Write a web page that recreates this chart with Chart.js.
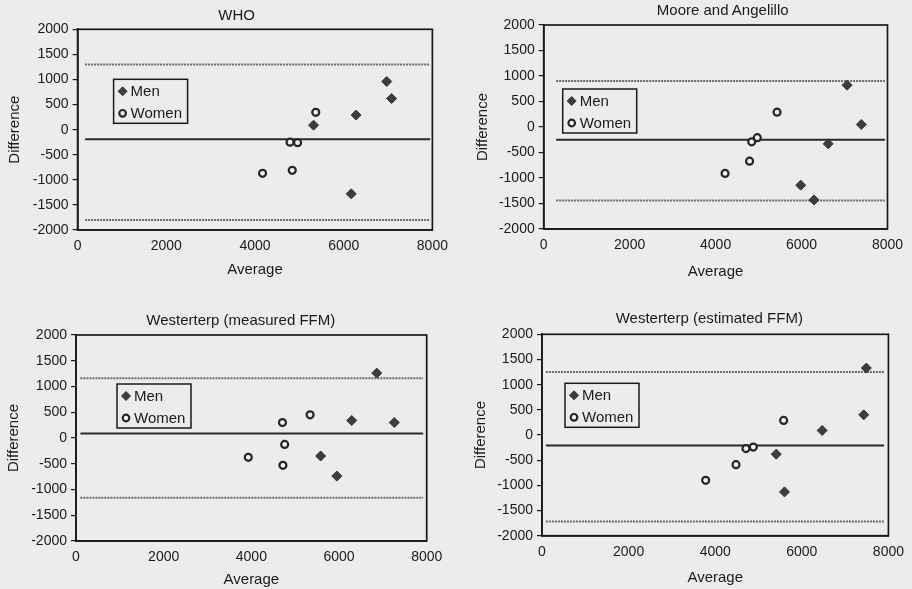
<!DOCTYPE html>
<html lang="en">
<head>
<meta charset="UTF-8">
<title>Difference vs Average</title>
<script src="https://cdn.jsdelivr.net/npm/chart.js"></script>
<style>
  body { margin: 0; background: #edecea; }
  #grid { position: relative; width: 912px; height: 589px; overflow: hidden; }
  #grid canvas { position: absolute; }
  .ptitle {
    position: absolute;
    transform: translate(-50%, -50%);
    font: 15px/18px "Liberation Sans", Arial, sans-serif;
    color: #1a1a1a;
    white-space: nowrap;
  }
</style>
</head>
<body>
<div id="grid">
  <canvas id="c0" width="456" height="295" style="left:0;top:0"></canvas>
  <canvas id="c1" width="456" height="295" style="left:456px;top:0"></canvas>
  <canvas id="c2" width="456" height="294" style="left:0;top:295px"></canvas>
  <canvas id="c3" width="456" height="294" style="left:456px;top:295px"></canvas>
</div>
<script>
// one entry per panel
const panelTitles = ['WHO', 'Moore and Angelillo', 'Westerterp (measured FFM)', 'Westerterp (estimated FFM)'];

const menAverage = [
  [5320, 6280, 6970, 7080, 6170],
  [7060, 7390, 6620, 5980, 6290],
  [6860, 6290, 7260, 5580, 5950],
  [7490, 7430, 6470, 5410, 5600]
];
const menDifference = [
  [90, 290, 960, 620, -1280],
  [820, 50, -330, -1140, -1430],
  [1260, 340, 300, -350, -740],
  [1330, 400, 90, -380, -1130]
];
const womenAverage = [
  [4170, 4790, 4960, 4840, 5370],
  [4220, 4790, 4840, 4970, 5430],
  [3930, 4710, 5340, 4760, 4720],
  [3780, 4480, 4710, 4880, 5580]
];
const womenDifference = [
  [-870, -250, -260, -810, 345],
  [-910, -670, -290, -210, 290],
  [-375, 300, 450, -125, -530],
  [-900, -590, -270, -240, 290]
];

// mean difference and limits of agreement
const meanDiff = [-190, -250, 85, -210];
const upperLimit = [1300, 900, 1160, 1250];
const lowerLimit = [-1800, -1440, -1160, -1720];
const lineStart = [170, 290, 100, 90];
const lineEnd = [7950, 7940, 7920, 7900];

const xTicks = [0, 2000, 4000, 6000, 8000];
const yTicks = [-2000, -1500, -1000, -500, 0, 500, 1000, 1500, 2000];

// placement of each panel on the page
const panels = [
  { x: 0,   y: 0,   w: 456, h: 295, left: 77.6, right: 432.4, top: 29.3,  bottom: 230,   titleAt: [236.7, 15],    yTitlePad: 6,  xTitlePad: 16, legendAt: [36, 50] },
  { x: 456, y: 0,   w: 456, h: 295, left: 543.7, right: 887.5, top: 25,   bottom: 229,   titleAt: [722.7, 10],    yTitlePad: 18, xTitlePad: 14, legendAt: [19, 64] },
  { x: 0,   y: 295, w: 456, h: 294, left: 76,   right: 426.7, top: 335,   bottom: 541,   titleAt: [240.8, 320],   yTitlePad: 5,  xTitlePad: 0,  legendAt: [41, 49] },
  { x: 456, y: 295, w: 456, h: 294, left: 542,  right: 892,   top: 334.3, bottom: 535.7, titleAt: [709.3, 318.3], yTitlePad: 16, xTitlePad: 2,  legendAt: [23, 49] }
];

const FONT = '"Liberation Sans", Arial, sans-serif';
const INK = '#1a1a1a';

// frame around the plot area
const plotFrame = {
  id: 'plotFrame',
  afterDraw(chart) {
    const { ctx, chartArea: a } = chart;
    ctx.save();
    ctx.strokeStyle = INK;
    ctx.lineWidth = 1.7;
    ctx.strokeRect(a.left, a.top, a.right - a.left, a.bottom - a.top);
    ctx.restore();
  }
};

// boxed legend inside the plot area
const boxLegend = {
  id: 'boxLegend',
  afterDraw(chart, args, opts) {
    const { ctx, chartArea } = chart;
    const x = chartArea.left + opts.dx;
    const y = chartArea.top + opts.dy;
    ctx.save();
    ctx.strokeStyle = INK;
    ctx.lineWidth = 1.5;
    ctx.strokeRect(x, y, 74, 44);
    ctx.font = '15px ' + FONT;
    ctx.textBaseline = 'middle';
    chart.data.datasets.slice(0, 2).forEach((ds, i) => {
      const cx = x + 9, cy = y + 12 + i * 22;
      ctx.beginPath();
      if (ds.pointStyle === 'rectRot') {
        const r = 4.5;
        ctx.moveTo(cx, cy - r); ctx.lineTo(cx + r, cy); ctx.lineTo(cx, cy + r); ctx.lineTo(cx - r, cy);
        ctx.closePath();
      } else {
        ctx.arc(cx, cy, 3.3, 0, Math.PI * 2);
      }
      ctx.fillStyle = ds.backgroundColor;
      ctx.fill();
      ctx.lineWidth = ds.borderWidth;
      ctx.strokeStyle = ds.borderColor;
      ctx.stroke();
      ctx.fillStyle = INK;
      ctx.fillText(ds.label, x + 17, cy + 1);
    });
    ctx.restore();
  }
};

function pairs(xs, ys) {
  return xs.map((v, i) => ({ x: v, y: ys[i] }));
}

function refLine(i, value, dashed) {
  return {
    label: '',
    data: [{ x: lineStart[i], y: value }, { x: lineEnd[i], y: value }],
    showLine: true,
    pointRadius: 0,
    borderColor: dashed ? '#6a6a6a' : '#2a2a2a',
    borderWidth: 2,
    borderDash: dashed ? [2, 1] : []
  };
}

panels.forEach((p, i) => {
  const t = document.createElement('div');
  t.className = 'ptitle';
  t.textContent = panelTitles[i];
  t.style.left = p.titleAt[0] + 'px';
  t.style.top = p.titleAt[1] + 'px';
  document.getElementById('grid').appendChild(t);

  new Chart(document.getElementById('c' + i), {
    type: 'scatter',
    data: {
      datasets: [
        {
          label: 'Men',
          data: pairs(menAverage[i], menDifference[i]),
          pointStyle: 'rectRot',
          pointRadius: 5,
          backgroundColor: '#3d3d3d',
          borderColor: '#333333',
          borderWidth: 1
        },
        {
          label: 'Women',
          data: pairs(womenAverage[i], womenDifference[i]),
          pointStyle: 'circle',
          pointRadius: 3.5,
          backgroundColor: '#f3f3f1',
          borderColor: '#262626',
          borderWidth: 2.2
        },
        refLine(i, meanDiff[i], false),
        refLine(i, upperLimit[i], true),
        refLine(i, lowerLimit[i], true)
      ]
    },
    options: {
      responsive: false,
      animation: false,
      events: [],
      layout: { padding: { left: 0, top: p.top - p.y, right: p.x + p.w - p.right, bottom: 0 } },
      plugins: {
        legend: { display: false },
        tooltip: { enabled: false },
        boxLegend: { dx: p.legendAt[0], dy: p.legendAt[1] }
      },
      scales: {
        x: {
          type: 'linear',
          min: 0,
          max: 8000,
          afterBuildTicks: s => { s.ticks = xTicks.map(v => ({ value: v })); },
          afterFit: s => { s.height = p.y + p.h - p.bottom; },
          grid: { display: false, drawTicks: false },
          border: { display: true, color: INK, width: 1.7 },
          ticks: { color: INK, font: { family: FONT, size: 14 }, padding: 8, maxRotation: 0, callback: v => String(v) },
          title: { display: true, text: 'Average', color: INK, font: { family: FONT, size: 15 }, padding: { top: 0, bottom: p.xTitlePad } }
        },
        y: {
          type: 'linear',
          min: -2000,
          max: 2000,
          afterBuildTicks: s => { s.ticks = yTicks.map(v => ({ value: v })); },
          afterFit: s => { s.width = p.left - p.x; },
          grid: { display: true, drawOnChartArea: false, drawTicks: true, tickLength: 5, color: INK, lineWidth: 1.2 },
          border: { display: true, color: INK, width: 1.7 },
          ticks: { color: INK, font: { family: FONT, size: 14 }, padding: 4, callback: v => String(v) },
          title: { display: true, text: 'Difference', color: INK, font: { family: FONT, size: 15 }, padding: { top: p.yTitlePad, bottom: 0 } }
        }
      }
    },
    plugins: [plotFrame, boxLegend]
  });
});
</script>
</body>
</html>
